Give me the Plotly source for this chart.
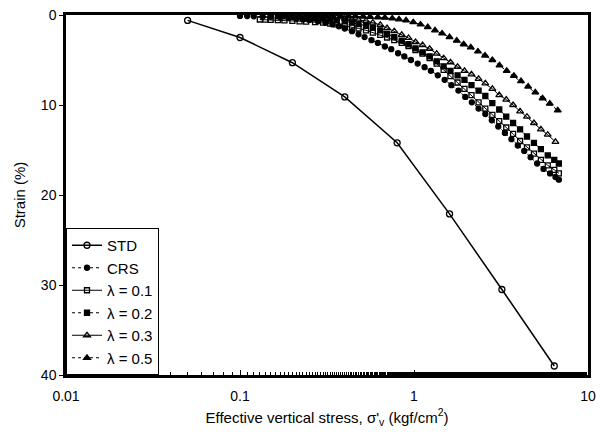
import plotly.graph_objects as go

# Standard oedometer test (incremental loading)
std_stress = [0.05, 0.1, 0.2, 0.4, 0.8, 1.6, 3.2, 6.4]
std_strain = [0.6, 2.5, 5.3, 9.1, 14.2, 22.1, 30.5, 39.0]

# Constant rate of strain test
crs_stress = [0.10, 0.11, 0.12, 0.135, 0.15, 0.17, 0.19, 0.21, 0.23, 0.25, 0.28, 0.31,
              0.34, 0.37, 0.40, 0.44, 0.48, 0.52, 0.57, 0.62, 0.68, 0.74, 0.81, 0.88,
              0.96, 1.05, 1.15, 1.25, 1.37, 1.5, 1.64, 1.8, 1.97, 2.15, 2.35, 2.57,
              2.8, 3.05, 3.33, 3.63, 3.95, 4.3, 4.68, 5.1, 5.55, 6.05, 6.5, 6.8]
crs_strain = [0.10, 0.12, 0.14, 0.17, 0.2, 0.25, 0.3, 0.38, 0.46, 0.55, 0.7, 0.85,
              1.05, 1.25, 1.5, 1.8, 2.15, 2.45, 2.8, 3.1, 3.5, 3.8, 4.25, 4.6,
              5.0, 5.4, 5.8, 6.2, 6.7, 7.2, 7.8, 8.4, 9.1, 9.7, 10.4, 11.0,
              11.7, 12.4, 13.1, 13.8, 14.5, 15.1, 15.8, 16.5, 17.1, 17.6, 18.0, 18.3]

# lambda = 0.1
l1_stress = [0.13, 0.14, 0.15, 0.165, 0.18, 0.2, 0.22, 0.24, 0.27, 0.3, 0.33, 0.36,
             0.40, 0.44, 0.48, 0.53, 0.58, 0.64, 0.70, 0.77, 0.85, 0.93, 1.02, 1.12,
             1.23, 1.35, 1.48, 1.62, 1.78, 1.95, 2.14, 2.35, 2.57, 2.82, 3.09, 3.39,
             3.71, 4.07, 4.46, 4.89, 5.36, 5.87, 6.4, 6.8]
l1_strain = [0.5, 0.52, 0.55, 0.58, 0.6, 0.65, 0.7, 0.73, 0.8, 0.85, 0.95, 1.05,
             1.2, 1.35, 1.5, 1.7, 1.95, 2.2, 2.5, 2.8, 3.1, 3.45, 3.9, 4.3,
             4.8, 5.4, 6.1, 6.8, 7.5, 8.2, 8.9, 9.7, 10.4, 11.1, 11.8, 12.5,
             13.2, 14.0, 14.7, 15.4, 16.1, 16.7, 17.2, 17.6]

# lambda = 0.2
l2_stress = [0.15, 0.165, 0.18, 0.2, 0.22, 0.24, 0.27, 0.3, 0.33, 0.36, 0.40, 0.44,
             0.48, 0.53, 0.58, 0.64, 0.70, 0.77, 0.85, 0.93, 1.02, 1.12, 1.23, 1.35,
             1.48, 1.62, 1.78, 1.95, 2.14, 2.35, 2.57, 2.82, 3.09, 3.39, 3.71, 4.07,
             4.46, 4.89, 5.36, 5.87, 6.4, 6.8]
l2_strain = [0.1, 0.12, 0.15, 0.2, 0.25, 0.3, 0.35, 0.4, 0.5, 0.6, 0.7, 0.85,
             1.0, 1.2, 1.4, 1.7, 2.1, 2.45, 2.85, 3.25, 3.7, 4.15, 4.6, 5.15,
             5.7, 6.2, 6.7, 7.2, 7.8, 8.4, 9.0, 9.8, 10.5, 11.3, 12.0, 12.7,
             13.5, 14.2, 14.9, 15.6, 16.1, 16.5]

# lambda = 0.3
l3_stress = [0.2, 0.22, 0.24, 0.27, 0.3, 0.33, 0.36, 0.40, 0.44, 0.48, 0.53, 0.58,
             0.64, 0.70, 0.77, 0.85, 0.93, 1.02, 1.12, 1.23, 1.35, 1.48, 1.62, 1.78,
             1.95, 2.14, 2.35, 2.57, 2.82, 3.09, 3.39, 3.71, 4.07, 4.46, 4.89, 5.36,
             5.87, 6.5]
l3_strain = [0.1, 0.12, 0.14, 0.17, 0.2, 0.25, 0.3, 0.4, 0.5, 0.55, 0.65, 0.85,
             1.1, 1.45, 1.8, 2.2, 2.55, 3.0, 3.35, 3.75, 4.3, 4.8, 5.25, 5.75,
             6.2, 6.6, 7.1, 7.6, 8.2, 8.9, 9.4, 10.0, 10.7, 11.3, 12.0, 12.7,
             13.3, 14.1]

# lambda = 0.5
l5_stress = [0.25, 0.28, 0.31, 0.34, 0.38, 0.42, 0.46, 0.51, 0.56, 0.62, 0.68, 0.75,
             0.82, 0.90, 0.99, 1.09, 1.2, 1.32, 1.45, 1.6, 1.76, 1.93, 2.12, 2.33,
             2.56, 2.82, 3.1, 3.41, 3.75, 4.12, 4.53, 4.98, 5.48, 6.03, 6.7]
l5_strain = [0.05, 0.06, 0.07, 0.08, 0.1, 0.12, 0.14, 0.17, 0.2, 0.25, 0.3, 0.38,
             0.48, 0.6, 0.8, 1.05, 1.35, 1.7, 2.05, 2.45, 2.85, 3.25, 3.6, 4.05,
             4.5, 5.0, 5.6, 6.2, 6.75, 7.35, 7.95, 8.6, 9.25, 9.85, 10.6]

x_ticks = [0.01, 0.1, 1, 10]
x_tick_labels = ["0.01", "0.1", "1", "10"]
y_ticks = [0, 10, 20, 30, 40]

series = [
    ("STD", std_stress, std_strain, "circle-open", "solid", 6, 1.5),
    ("CRS", crs_stress, crs_strain, "circle", "dot", 5, 1.0),
    ("λ = 0.1", l1_stress, l1_strain, "square-open", "solid", 5, 1.0),
    ("λ = 0.2", l2_stress, l2_strain, "square", "dot", 5, 1.0),
    ("λ = 0.3", l3_stress, l3_strain, "triangle-up-open", "solid", 6, 1.0),
    ("λ = 0.5", l5_stress, l5_strain, "triangle-up", "dot", 6, 1.0),
]

fig = go.Figure()
for name, xs, ys, sym, dash, msize, lw in series:
    fig.add_trace(go.Scatter(
        x=xs, y=ys, name=name, mode="lines+markers",
        line=dict(color="black", width=lw, dash=dash),
        marker=dict(symbol=sym, size=msize, color="black",
                    line=dict(color="black", width=1.3)),
    ))

font_family = "Liberation Sans, Arial, sans-serif"

fig.update_layout(
    width=605, height=434,
    margin=dict(l=66, r=17, t=15, b=59, autoexpand=False),
    paper_bgcolor="white", plot_bgcolor="white",
    font=dict(family=font_family, size=14, color="black"),
    legend=dict(
        x=0, y=0, xanchor="left", yanchor="bottom",
        bgcolor="white", bordercolor="black", borderwidth=1,
        font=dict(size=15, color="black"),
        itemwidth=30, tracegroupgap=0,
    ),
    xaxis=dict(
        type="log", range=[-2, 1], automargin=False,
        tickvals=x_ticks, ticktext=x_tick_labels,
        showline=True, linecolor="black", linewidth=2.5, mirror=True,
        showgrid=False, zeroline=False,
        ticks="inside", ticklen=5, tickcolor="black",
        ticklabelstandoff=6,
        minor=dict(ticks="inside", ticklen=3, tickcolor="black", showgrid=False),
        title=dict(text="Effective vertical stress, σ'<sub>v</sub> (kgf/cm<sup>2</sup>)",
                   font=dict(size=15), standoff=10),
        tickfont=dict(size=14),
    ),
    yaxis=dict(
        range=[40, 0], automargin=False,
        tickvals=y_ticks,
        showline=True, linecolor="black", linewidth=2.5, mirror=True,
        showgrid=False, zeroline=False,
        ticks="outside", ticklen=4, tickcolor="black",
        title=dict(text="Strain (%)", font=dict(size=15), standoff=12),
        tickfont=dict(size=14),
    ),
)

fig.write_html("out.html")
